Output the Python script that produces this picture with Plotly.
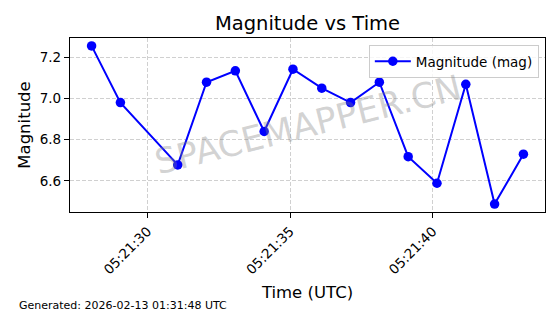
import plotly.graph_objects as go
import pandas as pd

times = ["05:21:28.04", "05:21:29.05", "05:21:31.06", "05:21:32.07", "05:21:33.08",
         "05:21:34.09", "05:21:35.10", "05:21:36.11", "05:21:37.12", "05:21:38.13",
         "05:21:39.14", "05:21:40.15", "05:21:41.16", "05:21:42.17", "05:21:43.18"]
magnitudes = [7.255, 6.98, 6.678, 7.079, 7.134, 6.84, 7.142, 7.05, 6.98, 7.079,
              6.718, 6.589, 7.069, 6.488, 6.73]
tick_times = ["05:21:30", "05:21:35", "05:21:40"]
date = "2026-02-13 "

x = pd.to_datetime([date + t for t in times])
xmin, xmax = x.min(), x.max()
pad = (xmax - xmin) * 0.05
ymin, ymax = min(magnitudes), max(magnitudes)
ypad = (ymax - ymin) * 0.05

FONT = "DejaVu Sans"
W, H = 560, 314
L, R, T, B = 70, 545, 38, 212

fig = go.Figure()
fig.add_trace(go.Scatter(
    x=x, y=magnitudes, mode="lines+markers", name="Magnitude (mag)",
    line=dict(color="#0000ff", width=2), marker=dict(color="#0000ff", size=9.5),
))

grid = dict(showgrid=True, gridcolor="#d0d0d0", griddash="4px,2px", gridwidth=0.8)

fig.update_layout(
    width=W, height=H,
    margin=dict(l=L, r=W - R, t=T, b=H - B),
    paper_bgcolor="white", plot_bgcolor="white",
    font=dict(family=FONT, color="black", size=13),
    title=dict(text="Magnitude vs Time", xref="paper", x=0.5, xanchor="center",
               yref="container", y=1 - 23 / H, yanchor="middle", font=dict(size=19.5)),
    showlegend=True,
    legend=dict(x=0.987, y=0.96, xanchor="right", yanchor="top",
                bordercolor="#cccccc", borderwidth=1, bgcolor="rgba(255,255,255,0.8)",
                font=dict(size=13.5), itemwidth=36, tracegroupgap=0),
    xaxis=dict(
        type="date", range=[xmin - pad, xmax + pad],
        tickvals=pd.to_datetime([date + t for t in tick_times]),
        ticktext=tick_times, tickangle=-45,
        showline=True, linecolor="black", linewidth=1.2, mirror=True,
        ticks="outside", ticklen=5, tickcolor="black",
        zeroline=False, tickfont=dict(size=13.5),
        title=dict(text="Time (UTC)", font=dict(size=16.5), standoff=10),
        **grid,
    ),
    yaxis=dict(
        range=[ymin - ypad, ymax + ypad],
        tickvals=[6.6, 6.8, 7.0, 7.2], ticktext=["6.6", "6.8", "7.0", "7.2"],
        showline=True, linecolor="black", linewidth=1.2, mirror=True,
        ticks="outside", ticklen=5, tickcolor="black",
        zeroline=False, tickfont=dict(size=13.5),
        title=dict(text="Magnitude", font=dict(size=16.5), standoff=4),
        **grid,
    ),
)

fig.add_annotation(text="SPACEMAPPER.CN", xref="paper", yref="paper", x=0.5, y=0.5,
                   showarrow=False, textangle=-14,
                   font=dict(family=FONT, size=35, color="rgba(128,128,128,0.35)"))
fig.add_annotation(text="Generated: 2026-02-13 01:31:48 UTC", xref="paper", yref="paper",
                   x=(17 - L) / (R - L), y=(B - 305) / (B - T), xanchor="left", yanchor="middle",
                   showarrow=False, font=dict(family=FONT, size=11))

fig.write_html("out.html")
